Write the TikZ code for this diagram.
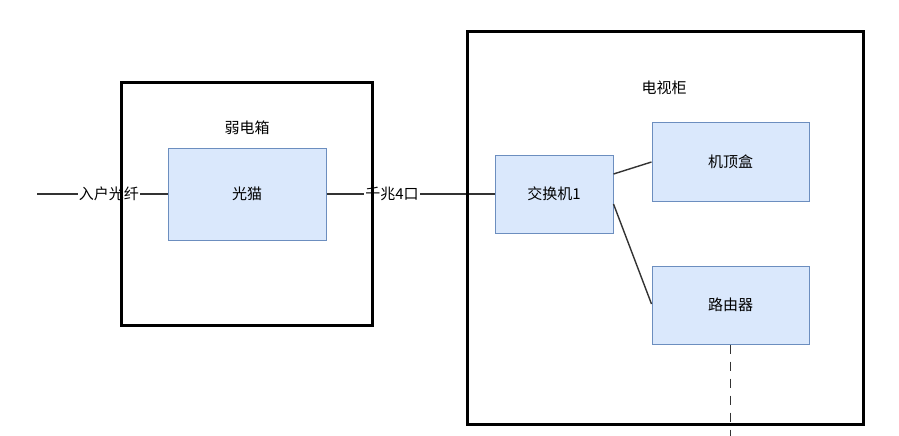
\documentclass[tikz,border=0pt]{standalone}
\usepackage{fontspec}
\newfontfamily\cjk{Noto Sans CJK SC}
\usetikzlibrary{positioning}
\definecolor{boxfill}{HTML}{DAE8FC}
\definecolor{boxline}{HTML}{6C8EBF}
\definecolor{wire}{HTML}{333333}

\begin{document}
\begin{tikzpicture}[
            x = 1pt, y = -1pt, % pixel-like units
            font = \cjk\fontsize{15}{18}\selectfont,
            wire/.style = {draw = wire, line width = 1.4pt}
        ]

        \tikzstyle{device}=[
            draw = boxline,
            fill = boxfill,
            line width = 1pt,
            inner sep = 0pt
        ]
        \tikzstyle{cabinet}=[
            draw = black,
            line width = 3pt,
            inner sep = 0pt
        ]

        \useasboundingbox (0,0) rectangle (899,436);

        % devices
        \node[device, minimum width = 158pt, minimum height = 92pt] (modem) at (247,194) {光猫};
        \node[device, minimum width = 118pt, minimum height = 78pt] (switch) at (554,194) {交换机1};
        \node[device, minimum width = 157pt, minimum height = 79pt] (stb) at (730.5,161.5) {机顶盒};
        \node[device, minimum width = 157pt, minimum height = 78pt] (router) at (730.5,305) {路由器};

        \coordinate (fiber) at (37,194);
        \coordinate (down) at (730.5,436);

        % connections
        \draw[wire] (fiber) -- node[pos = 0.55, fill = white, inner sep = 1pt] (fiberlabel) {入户光纤} (modem.west);
        \draw[wire] (modem.east) -- node[pos = 0.39, fill = white, inner sep = 1pt] (portlabel) {千兆4口} (switch.west);
        \draw[wire] (switch.east |- 0,174) -- (stb.west |- 0,162);
        \draw[wire] (switch.east |- 0,204) -- (router.west |- 0,304);
        \draw[wire, dash pattern = on 9pt off 8pt] (router.south) -- (down);

        % cabinets
        \node[cabinet, minimum width = 251pt, minimum height = 243pt] (weakbox) at (246.5,204) {};
        \node[cabinet, minimum width = 396pt, minimum height = 392pt] (tvbox) at (665,228) {};
        \node (weaklabel) at (247,128) {弱电箱};
        \node (tvlabel) at (664,88) {电视柜};

    \end{tikzpicture}
\end{document}
